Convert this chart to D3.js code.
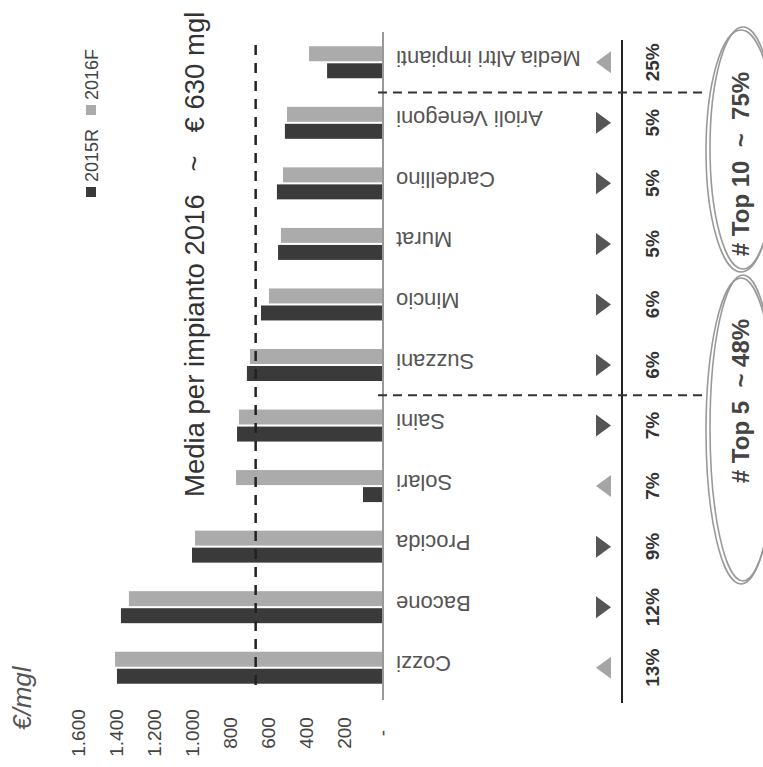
<!DOCTYPE html>
<html lang="it">
<head>
    <meta charset="UTF-8">
    <title>Media per impianto 2016</title>
    <script src="https://d3js.org/d3.v7.min.js"></script>
    <style>
        body {
            margin: 0;
            background: #fff;
            font-family: "Liberation Sans", Arial, sans-serif;
        }
    </style>
</head>
<body>
    <div id="chart"></div>

    <script>
        // dati (€/mgl)
        const categories = ["Cozzi", "Bacone", "Procida", "Solari", "Saini", "Suzzani",
            "Mincio", "Murat", "Cardellino", "Arioli Venegoni", "Media Altri impianti"];
        const values2015R = [1395, 1374, 1000, 100, 763, 711, 637, 547, 553, 511, 289];
        const values2016F = [1405, 1332, 984, 768, 753, 695, 595, 532, 521, 500, 384];
        const shares = ["13%", "12%", "9%", "7%", "7%", "6%", "6%", "5%", "5%", "5%", "25%"];
        const trendUp = [false, true, true, false, true, true, true, true, true, true, false];
        const tickValues = [0, 200, 400, 600, 800, 1000, 1200, 1400, 1600];
        const tickLabels = ["-", "200", "400", "600", "800", "1.000", "1.200", "1.400", "1.600"];
        const averageLine = 665;
        const groups = [
            { label: "# Top 5  ~ 48%", textY: 401, cy: 431, ry: 153 },
            { label: "# Top 10  ~  75%", textY: 164, cy: 151, ry: 121 }
        ];

        const width = 763, height = 767;
        const svg = d3.select("#chart").append("svg")
            .attr("width", width)
            .attr("height", height);

        // il grafico è ruotato: i valori crescono verso sinistra
        const x = d3.scaleLinear().domain([0, 1600]).range([382, 78]);
        const y = d3.scaleBand().domain(categories).range([698, 32]);
        const bw = y.bandwidth();
        const ySub = d3.scaleBand().domain(["2016F", "2015R"])
            .range([bw / 2 - 16, bw / 2 + 16]).paddingInner(0.12);

        const colors = { "2015R": "#3a3a3a", "2016F": "#ababab" };

        const rows = categories.map((c, i) => ({
            cat: c, "2015R": values2015R[i], "2016F": values2016F[i],
            share: shares[i], up: trendUp[i]
        }));

        // barre
        const bars = svg.append("g");
        ["2016F", "2015R"].forEach(s => {
            bars.selectAll(".b" + s)
                .data(rows)
                .enter().append("rect")
                .attr("x", d => x(d[s]))
                .attr("y", d => y(d.cat) + ySub(s))
                .attr("width", d => x(0) - x(d[s]))
                .attr("height", ySub.bandwidth())
                .attr("fill", colors[s]);
        });

        // asse dei valori
        svg.append("line")
            .attr("x1", x(0) + 1).attr("x2", x(0) + 1)
            .attr("y1", 32).attr("y2", 700)
            .attr("stroke", "#999").attr("stroke-width", 2);

        svg.append("g").selectAll("text")
            .data(tickValues)
            .enter().append("text")
            .attr("transform", (d, i) => `translate(${x(d)},733) rotate(-90)`)
            .attr("text-anchor", "middle")
            .attr("dominant-baseline", "central")
            .attr("font-size", 19)
            .attr("fill", "#444")
            .text((d, i) => tickLabels[i]);

        // linea della media
        svg.append("line")
            .attr("x1", x(averageLine)).attr("x2", x(averageLine))
            .attr("y1", 45).attr("y2", 692)
            .attr("stroke", "#222").attr("stroke-width", 2.5)
            .attr("stroke-dasharray", "10,8");

        // etichette delle categorie (capovolte)
        svg.append("g").selectAll("text")
            .data(rows)
            .enter().append("text")
            .attr("transform", d => `translate(396,${y(d.cat) + bw / 2 - 4}) rotate(180)`)
            .attr("text-anchor", "end")
            .attr("dominant-baseline", "central")
            .attr("font-size", 22)
            .attr("fill", "#555")
            .text(d => d.cat);

        // triangoli
        svg.append("g").selectAll("path")
            .data(rows)
            .enter().append("path")
            .attr("transform", d => `translate(603,${y(d.cat) + bw / 2})`)
            .attr("d", d => d.up ? "M-7,-11L8,0L-7,11Z" : "M8,-11L-7,0L8,11Z")
            .attr("fill", d => d.up ? "#555" : "#a5a5a5");

        // linea verticale continua
        svg.append("line")
            .attr("x1", 622).attr("x2", 622)
            .attr("y1", 40).attr("y2", 703)
            .attr("stroke", "#222").attr("stroke-width", 2);

        // quote
        svg.append("g").selectAll("text")
            .data(rows)
            .enter().append("text")
            .attr("transform", d => `translate(652,${y(d.cat) + bw / 2}) rotate(-90)`)
            .attr("text-anchor", "middle")
            .attr("dominant-baseline", "central")
            .attr("font-size", 19)
            .attr("font-weight", "bold")
            .attr("fill", "#333")
            .text(d => d.share);

        // separatori top 5 / top 10
        [["Saini", "Suzzani"], ["Arioli Venegoni", "Media Altri impianti"]].forEach(p => {
            const yy = y(p[0]);
            svg.append("line")
                .attr("x1", 378).attr("x2", 708)
                .attr("y1", yy).attr("y2", yy)
                .attr("stroke", "#333").attr("stroke-width", 2)
                .attr("stroke-dasharray", "9,6");
        });

        // gruppi cerchiati a mano
        groups.forEach(g => {
            [[0, 0], [2, -3]].forEach(o => {
                svg.append("ellipse")
                    .attr("cx", 741 + o[0]).attr("cy", g.cy + o[1])
                    .attr("rx", 35 - o[0]).attr("ry", g.ry)
                    .attr("fill", "none")
                    .attr("stroke", "#9a9a9a").attr("stroke-width", 1.6);
            });
            svg.append("text")
                .attr("transform", `translate(740,${g.textY}) rotate(-90)`)
                .attr("text-anchor", "middle")
                .attr("dominant-baseline", "central")
                .attr("font-size", 24)
                .attr("font-weight", "bold")
                .attr("fill", "#444")
                .style("white-space", "pre")
                .text(g.label);
        });

        // titolo
        svg.append("text")
            .attr("transform", "translate(204,497) rotate(-90)")
            .attr("font-size", 27.5)
            .attr("fill", "#333")
            .style("white-space", "pre")
            .text("Media per impianto 2016   ~   € 630 mgl");

        // unità
        svg.append("text")
            .attr("transform", "translate(31,730) rotate(-90)")
            .attr("font-size", 26)
            .attr("font-style", "italic")
            .attr("fill", "#555")
            .text("€/mgl");

        // legenda
        const legend = [["2015R", 197, 182], ["2016F", 115, 100]];
        legend.forEach(l => {
            svg.append("rect")
                .attr("x", 86).attr("y", l[1] - 10)
                .attr("width", 10).attr("height", 10)
                .attr("fill", colors[l[0]]);
            svg.append("text")
                .attr("transform", `translate(98,${l[2]}) rotate(-90)`)
                .attr("font-size", 18)
                .attr("fill", "#444")
                .text(l[0]);
        });
    </script>
</body>
</html>
